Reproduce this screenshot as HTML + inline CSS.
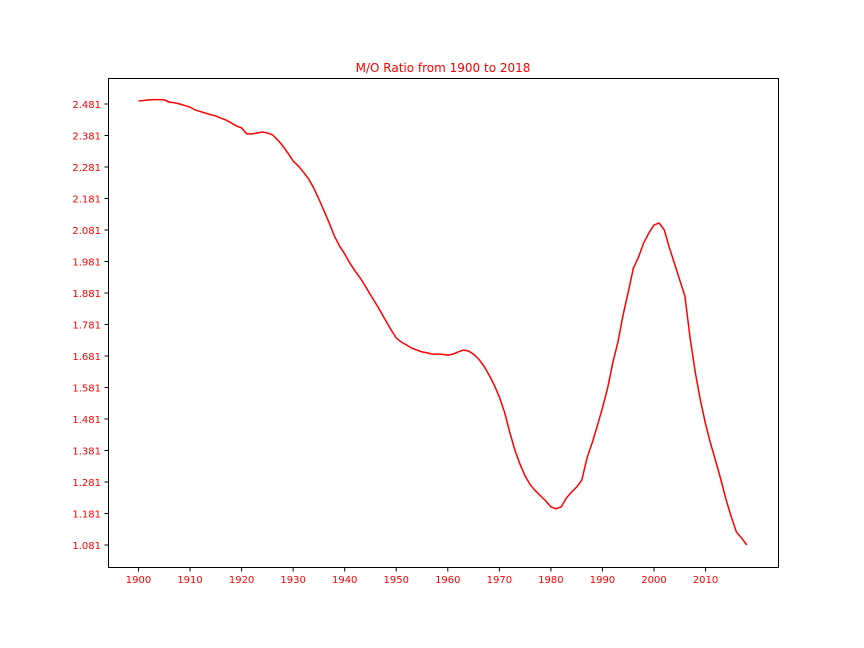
<!DOCTYPE html>
<html><head><meta charset="utf-8"><style>
html,body{margin:0;padding:0;background:#fff;}
svg{display:block;font-family:"DejaVu Sans","Liberation Sans",sans-serif;}
</style></head><body>
<svg id="chart" width="864" height="648">
<text x="443" y="72" text-anchor="middle" font-size="12" fill="#ff0000">M/O Ratio from 1900 to 2018</text>
<rect x="108.5" y="78.5" width="670" height="489" fill="none" stroke="#000" stroke-width="1"/>
<g id="yaxis"></g>
<g id="xaxis"></g>
<path id="line" fill="none" stroke="#ff0000" stroke-width="1.5"/>
</svg>
<script>
const years = [];
for (let y = 1900; y <= 2018; y++) years.push(y);
const values = [2.491,2.492,2.494,2.495,2.495,2.494,2.487,2.485,2.481,2.476,2.471,2.462,2.457,2.452,2.447,2.443,2.436,2.430,2.421,2.411,2.405,2.386,2.386,2.389,2.392,2.389,2.383,2.367,2.348,2.325,2.300,2.284,2.265,2.243,2.214,2.179,2.141,2.103,2.062,2.030,2.005,1.976,1.951,1.929,1.903,1.875,1.849,1.821,1.792,1.764,1.738,1.725,1.716,1.706,1.700,1.694,1.691,1.687,1.687,1.686,1.684,1.687,1.694,1.700,1.697,1.687,1.671,1.649,1.621,1.589,1.551,1.503,1.440,1.383,1.338,1.300,1.272,1.253,1.237,1.221,1.202,1.196,1.202,1.230,1.249,1.265,1.287,1.357,1.405,1.459,1.516,1.579,1.659,1.725,1.811,1.884,1.960,1.995,2.040,2.071,2.097,2.103,2.081,2.024,1.973,1.922,1.871,1.738,1.630,1.541,1.465,1.402,1.345,1.287,1.224,1.170,1.122,1.103,1.081];
const yTicks = [1.081,1.181,1.281,1.381,1.481,1.581,1.681,1.781,1.881,1.981,2.081,2.181,2.281,2.381,2.481];
const xTicks = [1900,1910,1920,1930,1940,1950,1960,1970,1980,1990,2000,2010];
const NS = "http://www.w3.org/2000/svg";
function sx(v){ return 138.5 + (v - 1900) * 5.155; }
function sy(v){ return 545 - (v - 1.081) * 315; }
const ya = document.getElementById('yaxis');
yTicks.forEach(t => {
  const l = document.createElementNS(NS,'line');
  l.setAttribute('x1',104.5); l.setAttribute('x2',108.5);
  l.setAttribute('y1',sy(t)); l.setAttribute('y2',sy(t));
  l.setAttribute('stroke','#000');
  
  
  ya.appendChild(l);
  const tx = document.createElementNS(NS,'text');
  tx.setAttribute('x',101); tx.setAttribute('y',sy(t)+4);
  tx.setAttribute('text-anchor','end'); tx.setAttribute('font-size','10');
  tx.setAttribute('fill','#ff0000');
  tx.textContent = t.toFixed(3);
  
  
  ya.appendChild(tx);
});
const xa = document.getElementById('xaxis');
xTicks.forEach(t => {
  const l = document.createElementNS(NS,'line');
  l.setAttribute('x1',sx(t)); l.setAttribute('x2',sx(t));
  l.setAttribute('y1',567.5); l.setAttribute('y2',571.5);
  l.setAttribute('stroke','#000');
  
  
  xa.appendChild(l);
  const tx = document.createElementNS(NS,'text');
  tx.setAttribute('x',sx(t)); tx.setAttribute('y',583);
  tx.setAttribute('text-anchor','middle'); tx.setAttribute('font-size','10');
  tx.setAttribute('fill','#ff0000');
  tx.textContent = t;
  
  
  xa.appendChild(tx);
});
document.getElementById('line').setAttribute('d',
  years.map((y,i)=>(i?'L':'M')+sx(y).toFixed(2)+','+sy(values[i]).toFixed(2)).join(''));
</script>
</body></html>
